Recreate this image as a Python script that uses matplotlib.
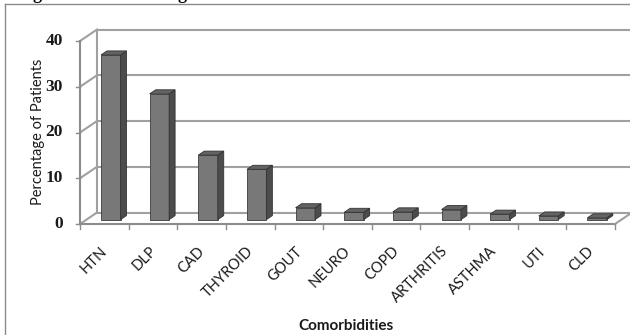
import numpy as np
import matplotlib
matplotlib.use('Agg')
import matplotlib.pyplot as plt
from matplotlib.patches import Polygon
from matplotlib.lines import Line2D
from matplotlib.transforms import IdentityTransform, ScaledTranslation

categories = ['HTN', 'DLP', 'CAD', 'THYROID', 'GOUT', 'NEURO', 'COPD',
              'ARTHRITIS', 'ASTHMA', 'UTI', 'CLD']
values = [36.0, 27.5, 14.1, 11.0, 2.6, 1.6, 1.7, 2.2, 1.2, 0.8, 0.4]
y_ticks = [0, 10, 20, 30, 40]

W, H = 630, 335
fig = plt.figure(figsize=(W / 100, H / 100), dpi=100)
fig.patch.set_facecolor('white')

# front plane of the pseudo-3D box
ax = fig.add_axes([80 / W, (H - 224) / H, 535 / W, 183 / H])
ax.set_xlim(0, len(categories))
ax.set_ylim(0, 40)
ax.set_autoscale_on(False)
ax.axis('off')

DEPTH = np.array([17.0, 11.5])   # pixel shift from front edge to back wall
ident = IdentityTransform()
grid_col = '#a0a0a0'


def pt(x, v, z=0.0):
    return ax.transData.transform((x, v)) + z * DEPTH


def seg(p, q, color=grid_col, lw=1.5, zorder=1):
    ax.add_line(Line2D([p[0], q[0]], [p[1], q[1]], transform=ident,
                       color=color, lw=lw, zorder=zorder, clip_on=False))


n = len(categories)

# back wall gridlines, side wall and floor
for v in y_ticks:
    seg(pt(0, v, 1), pt(n, v, 1))
    seg(pt(0, v, 0), pt(0, v, 1))
seg(pt(0, 0, 1), pt(0, 40, 1))
seg(pt(0, 0, 0), pt(0, 40, 0), color='#8c8c8c')
seg(pt(0, 0, 0), pt(n, 0, 0), color='#8c8c8c')
seg(pt(n, 0, 0), pt(n, 0, 1))

# tick marks
for i in range(n + 1):
    p = pt(i, 0, 0)
    seg(p, p + [0, -5], color='#8c8c8c', lw=1.0)
for v in y_ticks:
    p = pt(0, v, 0)
    seg(p, p + [-4, 0], color='#8c8c8c', lw=1.0)
    ax.text(p[0] - 17, p[1], str(v), transform=ident, ha='right', va='center',
            family='Liberation Serif', weight='bold', fontsize=12.5, color='#1a1a1a')

# bars: front faces through ax.bar, pushed back into the box
z0, z1 = 0.38, 0.73
x_pos = np.arange(n) + 0.5
shift = ScaledTranslation(z0 * DEPTH[0] / 100, z0 * DEPTH[1] / 100, fig.dpi_scale_trans)
ax.bar(x_pos, values, width=0.4, color='#787878', edgecolor='#3c3c3c',
       linewidth=0.6, transform=ax.transData + shift, zorder=3, clip_on=False)

for xc, v in zip(x_pos, values):
    x0, x1 = xc - 0.2, xc + 0.2
    side = [pt(x1, 0, z0), pt(x1, 0, z1), pt(x1, v, z1), pt(x1, v, z0)]
    top = [pt(x0, v, z0), pt(x1, v, z0), pt(x1, v, z1), pt(x0, v, z1)]
    ax.add_patch(Polygon(side, closed=True, transform=ident, facecolor='#4c4c4c',
                         edgecolor='#333333', lw=0.6, zorder=3, clip_on=False))
    ax.add_patch(Polygon(top, closed=True, transform=ident, facecolor='#636363',
                         edgecolor='#333333', lw=0.6, zorder=3, clip_on=False))

# category labels
for xc, name in zip(x_pos, categories):
    p = pt(xc, 0, 0)
    ax.text(p[0] + 1, p[1] - 25, name, transform=ident, rotation=45,
            rotation_mode='anchor', ha='right', va='center',
            family='Lato', fontsize=10.5, color='#1a1a1a')

fig.text(38 / W, 1 - 131.5 / H, 'Percentage of Patients', rotation=90,
         ha='center', va='center', family='Lato', fontsize=10.5, color='#1a1a1a')
fig.text(346 / W, 1 - 330 / H, 'Comorbidities', ha='center', va='baseline',
         family='Lato', weight='bold', fontsize=11, color='#1a1a1a')

# outer frame and the clipped caption line above it
fig.add_artist(Line2D([5 / W, 5 / W], [0, 1 - 4 / H], color='#8a8a8a', lw=1.0))
fig.add_artist(Line2D([5 / W, 1], [1 - 4 / H, 1 - 4 / H], color='#8a8a8a', lw=1.0))
for gx in (37, 182):
    fig.text(gx / W, 1 + 1 / H, 'g', ha='center', va='baseline',
             family='Liberation Serif', weight='bold', fontsize=13)

fig.savefig('out.png', dpi=100, facecolor='white')
